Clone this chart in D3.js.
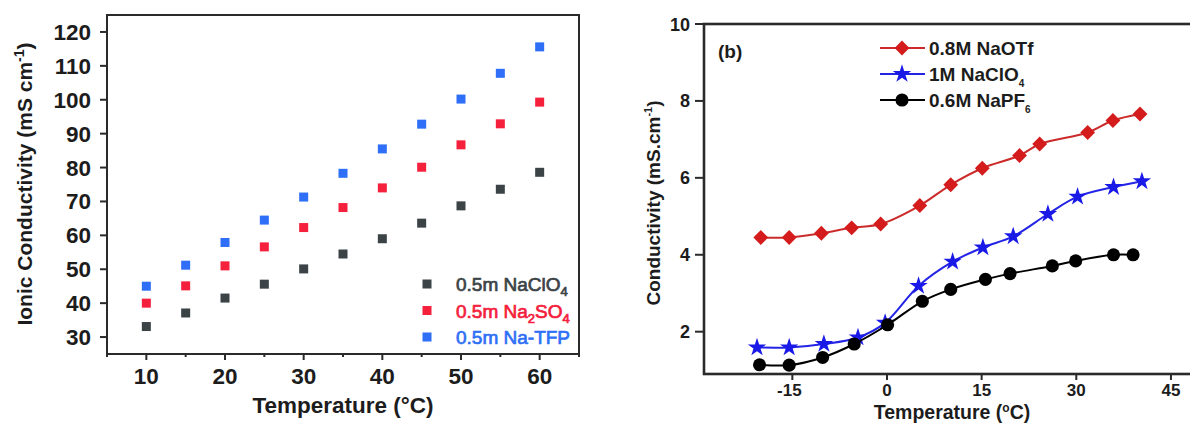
<!DOCTYPE html>
<html lang="en">
<head>
  <meta charset="UTF-8" />
  <title>Ionic conductivity vs temperature</title>
  <script src="https://d3js.org/d3.v7.min.js"></script>
  <style>
    body { margin: 0; background: #fff; }
    svg { display: block; font-family: "Liberation Sans", Arial, sans-serif; }
    .tick-lab { font-weight: bold; fill: #1c1c1c; }
    .title { font-weight: bold; fill: #1c1c1c; }
  </style>
</head>
<body>
  <svg id="chart" width="1190" height="423"></svg>

  <script>
    // ---- panel (a) data ----
    const tempA = [10, 15, 20, 25, 30, 35, 40, 45, 50, 55, 60];
    const naclo4A = [33.1, 37.1, 41.5, 45.6, 50.1, 54.5, 59.0, 63.6, 68.7, 73.6, 78.6];
    const na2so4A = [40.0, 45.1, 51.0, 56.6, 62.3, 68.2, 74.0, 80.1, 86.7, 92.9, 99.3];
    const natfpA  = [45.0, 51.2, 57.9, 64.5, 71.3, 78.3, 85.5, 92.8, 100.2, 107.8, 115.6];
    const yTicksA = [30, 40, 50, 60, 70, 80, 90, 100, 110, 120];
    const xTicksA = [10, 20, 30, 40, 50, 60];
    const xMinorA = [5, 15, 25, 35, 45, 55, 65];

    // ---- panel (b) data ----
    const tempOTf   = [-20, -15.5, -10.4, -5.6, -1, 5.2, 10.1, 15.1, 21, 24.2, 31.8, 35.8, 40.1];
    const naotf     = [4.45, 4.45, 4.56, 4.7, 4.8, 5.28, 5.82, 6.25, 6.58, 6.88, 7.18, 7.49, 7.66];
    const tempClO4  = [-20.6, -15.5, -10, -4.6, -0.3, 5, 10.4, 15.2, 20, 25.5, 30.2, 35.9, 40.4];
    const naclo4B   = [1.59, 1.59, 1.68, 1.85, 2.23, 3.19, 3.82, 4.19, 4.48, 5.06, 5.51, 5.76, 5.91];
    const tempPF6   = [-20.2, -15.5, -10.2, -5.2, 0.1, 5.6, 10.1, 15.6, 19.5, 26.2, 29.9, 35.9, 39];
    const napf6     = [1.14, 1.13, 1.33, 1.68, 2.18, 2.79, 3.10, 3.36, 3.51, 3.71, 3.84, 4.0, 4.0];
    const yTicksB = [2, 4, 6, 8, 10];
    const xTicksB = [-15, 0, 15, 30, 45];

    const svg = d3.select("#chart");

    // ================= panel (a) =================
    const xA = d3.scaleLinear().domain([5, 65]).range([107, 579]);
    const yA = d3.scaleLinear().domain([25, 125]).range([354, 15]);

    const gA = svg.append("g");
    gA.append("rect")
      .attr("x", xA(5)).attr("y", yA(125))
      .attr("width", xA(65) - xA(5)).attr("height", yA(25) - yA(125))
      .attr("fill", "none").attr("stroke", "#2a2a2a").attr("stroke-width", 2);

    // y ticks
    yTicksA.forEach(v => {
      gA.append("line").attr("x1", xA(5) - 7).attr("x2", xA(5))
        .attr("y1", yA(v)).attr("y2", yA(v)).attr("stroke", "#2a2a2a").attr("stroke-width", 2);
      gA.append("text").attr("class", "tick-lab")
        .attr("x", 91).attr("y", yA(v) + 8).attr("text-anchor", "end")
        .attr("font-size", 22.5).text(v);
    });
    // x ticks
    xTicksA.forEach(v => {
      gA.append("line").attr("x1", xA(v)).attr("x2", xA(v))
        .attr("y1", yA(25)).attr("y2", yA(25) + 6).attr("stroke", "#2a2a2a").attr("stroke-width", 2);
      gA.append("text").attr("class", "tick-lab")
        .attr("x", xA(v)).attr("y", 384).attr("text-anchor", "middle")
        .attr("font-size", 22.5).text(v);
    });
    xMinorA.forEach(v => {
      gA.append("line").attr("x1", xA(v)).attr("x2", xA(v))
        .attr("y1", yA(25)).attr("y2", yA(25) + 3).attr("stroke", "#2a2a2a").attr("stroke-width", 2);
    });

    gA.append("text").attr("class", "title")
      .attr("x", 343).attr("y", 413).attr("text-anchor", "middle")
      .attr("font-size", 22.5).text("Temperature (°C)");

    const yTitleA = gA.append("text").attr("class", "title")
      .attr("transform", "translate(32,184) rotate(-90)")
      .attr("text-anchor", "middle").attr("font-size", 21);
    yTitleA.append("tspan").text("Ionic Conductivity (mS cm");
    yTitleA.append("tspan").attr("dy", -8).attr("font-size", 14).text("-1");
    yTitleA.append("tspan").attr("dy", 8).text(")");

    const seriesA = [
      { name: ["0.5m NaClO", "4", ""], vals: naclo4A, color: "#3b4347" },
      { name: ["0.5m Na", "2", "SO", "4"], vals: na2so4A, color: "#f5203c" },
      { name: ["0.5m Na-TFP"], vals: natfpA, color: "#2f6ff7" }
    ];
    const sq = 9;
    seriesA.forEach(s => {
      gA.selectAll(null).data(tempA).enter().append("rect")
        .attr("x", (d) => xA(d) - sq / 2)
        .attr("y", (d, i) => yA(s.vals[i]) - sq / 2)
        .attr("width", sq).attr("height", sq)
        .attr("fill", s.color);
    });

    // legend (a)
    seriesA.forEach((s, i) => {
      const ly = 284 + i * 26.5;
      gA.append("rect").attr("x", 427 - sq / 2).attr("y", ly - sq / 2)
        .attr("width", sq).attr("height", sq).attr("fill", s.color);
      const t = gA.append("text").attr("x", 456).attr("y", ly + 7)
        .attr("font-size", 19).attr("fill", s.color)
        .attr("stroke", s.color).attr("stroke-width", 0.7);
      s.name.forEach((part, k) => {
        if (k % 2 === 0) t.append("tspan").attr("font-size", 19).attr("dy", k === 0 ? 0 : -5).text(part);
        else t.append("tspan").attr("font-size", 13).attr("dy", 5).text(part);
      });
    });

    // ================= panel (b) =================
    const xB = d3.scaleLinear().domain([-29, 50]).range([704, 1202.5]);
    const yB = d3.scaleLinear().domain([0.9, 10]).range([374, 24]);

    const gB = svg.append("g");
    gB.append("rect")
      .attr("x", xB(-29)).attr("y", yB(10))
      .attr("width", xB(50) - xB(-29)).attr("height", yB(0.9) - yB(10))
      .attr("fill", "none").attr("stroke", "#2a2a2a").attr("stroke-width", 2.6);

    yTicksB.forEach(v => {
      gB.append("line").attr("x1", xB(-29) - 9).attr("x2", xB(-29))
        .attr("y1", yB(v)).attr("y2", yB(v)).attr("stroke", "#2a2a2a").attr("stroke-width", 2);
      gB.append("text").attr("class", "tick-lab")
        .attr("x", 690).attr("y", yB(v) + 6.5).attr("text-anchor", "end")
        .attr("font-size", 18).text(v);
    });
    xTicksB.forEach(v => {
      gB.append("line").attr("x1", xB(v)).attr("x2", xB(v))
        .attr("y1", yB(0.9)).attr("y2", yB(0.9) + 6).attr("stroke", "#2a2a2a").attr("stroke-width", 2);
      gB.append("text").attr("class", "tick-lab")
        .attr("x", xB(v) - (v < 0 ? 3 : 0)).attr("y", 396).attr("text-anchor", "middle")
        .attr("font-size", 17).text(v);
    });

    const xTitleB = gB.append("text").attr("class", "title")
      .attr("x", 952).attr("y", 419).attr("text-anchor", "middle").attr("font-size", 19.5);
    xTitleB.append("tspan").text("Temperature (");
    xTitleB.append("tspan").attr("dy", -7).attr("font-size", 12).text("o");
    xTitleB.append("tspan").attr("dy", 7).text("C)");

    const yTitleB = gB.append("text").attr("class", "title")
      .attr("transform", "translate(660,203) rotate(-90)")
      .attr("text-anchor", "middle").attr("font-size", 19);
    yTitleB.append("tspan").text("Conductivity (mS.cm");
    yTitleB.append("tspan").attr("dy", -8).attr("font-size", 11).text("-1");
    yTitleB.append("tspan").attr("dy", 8).text(")");

    gB.append("text").attr("class", "title")
      .attr("x", 718).attr("y", 58).attr("font-size", 19).text("(b)");

    const seriesB = [
      { name: ["0.8M NaOTf"], xs: tempOTf, ys: naotf, line: "#cc2b2b", fill: "#d41c1c", sym: "diamond" },
      { name: ["1M NaClO", "4"], xs: tempClO4, ys: naclo4B, line: "#2424e6", fill: "#1a1ae8", sym: "star" },
      { name: ["0.6M NaPF", "6"], xs: tempPF6, ys: napf6, line: "#000", fill: "#000", sym: "circle" }
    ];

    const symbolFor = {
      diamond: d3.symbol().type(d3.symbolSquare).size(110),
      star: d3.symbol().type(d3.symbolStar).size(105),
      circle: d3.symbol().type(d3.symbolCircle).size(135)
    };
    const rot = s => s === "diamond" ? " rotate(45)" : "";

    const line = d3.line().curve(d3.curveCatmullRom.alpha(0.5));
    seriesB.forEach(s => {
      const pts = s.xs.map((x, i) => [xB(x), yB(s.ys[i])]);
      gB.append("path").attr("d", line(pts))
        .attr("fill", "none").attr("stroke", s.line).attr("stroke-width", 2);
      gB.selectAll(null).data(pts).enter().append("path")
        .attr("d", symbolFor[s.sym]())
        .attr("transform", d => `translate(${d[0]},${d[1]})${rot(s.sym)}`)
        .attr("fill", s.fill);
    });

    // legend (b)
    seriesB.forEach((s, i) => {
      const ly = 48 + i * 26;
      gB.append("line").attr("x1", 880).attr("x2", 925).attr("y1", ly).attr("y2", ly)
        .attr("stroke", s.line).attr("stroke-width", 2);
      gB.append("path").attr("d", symbolFor[s.sym]())
        .attr("transform", `translate(902,${ly})${rot(s.sym)}`).attr("fill", s.fill);
      const t = gB.append("text").attr("class", "title")
        .attr("x", 929).attr("y", ly + 7).attr("font-size", 19);
      t.append("tspan").text(s.name[0]);
      if (s.name[1]) t.append("tspan").attr("dy", 6).attr("font-size", 10).text(s.name[1]);
    });
  </script>
</body>
</html>
